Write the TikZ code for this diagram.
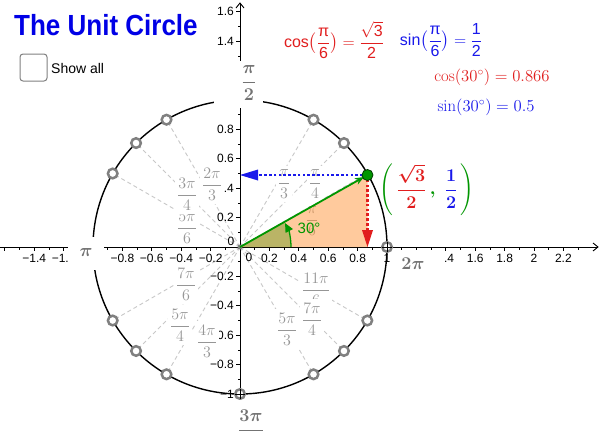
\RequirePackage{fix-cm}
\documentclass[tikz,border=0pt]{standalone}
\usepackage{amsmath}
\usepackage{fontspec}
\newfontfamily\gsans{Liberation Sans}
\usetikzlibrary{arrows.meta}
\definecolor{ggred}{RGB}{225,30,30}
\definecolor{ggblue}{RGB}{25,25,235}
\definecolor{titleblue}{RGB}{0,0,230}
\definecolor{gggreen}{RGB}{0,150,0}
\definecolor{lblgray}{RGB}{150,150,150}
\definecolor{cardgray}{RGB}{115,115,115}
\definecolor{raygray}{RGB}{200,200,200}
\definecolor{ringgray}{RGB}{128,128,128}
\definecolor{triorange}{RGB}{255,150,60}
\definecolor{sectgreen}{RGB}{60,140,0}
\newcommand{\gs}[1]{\text{\gsans #1}}
\begin{document}
\begin{tikzpicture}[x=1pt,y=-1pt,
  ray/.style={draw=raygray, line width=0.9pt, dash pattern=on 4pt off 3pt},
  ring/.style={draw=ringgray, fill=white, line width=2.5pt},
  ticklbl/.style={font=\gsans\fontsize{12}{14}\selectfont, inner sep=0pt, text=black},
  anglbl/.style={text=lblgray, fill=white, inner xsep=2.5pt, inner ysep=3.5pt, font=\fontsize{16}{19}\selectfont},
  cardlbl/.style={text=cardgray, inner sep=0pt, font=\fontsize{18}{21}\selectfont\boldmath},
  dotline/.style={line width=2.6pt, dash pattern=on 2.6pt off 2.2pt},
  axisline/.style={line width=0.9pt, draw=black},
  tickline/.style={line width=0.8pt, draw=black}
]
\useasboundingbox (0,0) rectangle (599,432);
\fill[white] (0,0) rectangle (599,432);
\coordinate (O) at (240,247);
\coordinate (P) at (367.5,175);
\coordinate (F) at (367.5,247);
\coordinate (Fb) at (367.5,231);
\coordinate (Yf) at (240,175);
\coordinate (Yb) at (257,175);
\coordinate (A0) at (291,247);
% rays
\foreach \a in {30,45,60,120,135,150,210,225,240,300,315,330}
  \draw[ray] (O) -- ({240+147*cos(\a)},{247-147*sin(\a)});
% unit circle
\draw[line width=1.4pt] (O) circle[radius=147pt];
% axes
\draw[axisline] (0,247) -- (598,247);
\draw[axisline] (593,243) -- (598,247) -- (593,251);
\draw[axisline] (240,400) -- (240,3);
\draw[axisline] (236,8) -- (240,3) -- (244,8);
\foreach \i in {-16,...,23}{
  \pgfmathsetmacro\xx{240+14.7*\i}
  \pgfmathsetmacro\tl{mod(\i+40,2)==0 ? 4 : 2.5}
  \draw[tickline] (\xx,247) -- (\xx,{247+\tl});
}
\foreach \i in {-10,...,16}{
  \pgfmathsetmacro\yy{247-14.7*\i}
  \pgfmathsetmacro\tl{mod(\i+40,2)==0 ? 4 : 2.5}
  \draw[tickline] (240,\yy) -- ({240-\tl},\yy);
}
\foreach \v/\t [count=\k] in {-1.4/−1.4,-1.2/−1.2,-1/−1,-0.8/−0.8,-0.6/−0.6,-0.4/−0.4,-0.2/−0.2,0.2/0.2,0.4/0.4,0.6/0.6,0.8/0.8,1/1,1.2/1.2,1.4/1.4,1.6/1.6,1.8/1.8,2/2,2.2/2.2}
  \node[ticklbl] (xl\k) at ({240+147*\v},258.5) {\t};
\node[ticklbl] (xlzero) at (249,257.5) {0};
\foreach \v/\t [count=\k] in {1.6/1.6,1.4/1.4,1.2/1.2,1/1,0.8/0.8,0.6/0.6,0.4/0.4,0.2/0.2,-0.2/−0.2,-0.4/−0.4,-0.6/−0.6,-0.8/−0.8,-1/−1}
  \node[ticklbl, anchor=east] (yl\k) at (234,{247-147*\v}) {\t};
\node[ticklbl] (ylzero) at (231,241) {0};
% rings on the circle
\foreach \a in {0,45,60,120,135,150,210,225,240,270,300,315,330}
  \draw[ring] ({240+147*cos(\a)},{247-147*sin(\a)}) circle[radius=4.8pt];
\draw[tickline] (382,247) -- (392,247) (387,242) -- (387,252);
\draw[tickline] (235,394) -- (245,394) (240,389) -- (240,399);
\fill[ringgray] (O) circle[radius=2.5pt];
% angle labels
\foreach \n/\x/\y/\nm/\dn in {fivesix/187/228/5\pi/6, threefour/187/195/3\pi/4, twothree/212/185/2\pi/3, sevensix/186/285/7\pi/6, fivefour/180/326/5\pi/4, fourthree/207/342/4\pi/3, pithree/284/185/\pi/3, pifour/315/185/\pi/4, pisix/312/222/\pi/6, elevensix/316/290/11\pi/6, sevenfour/312/320/7\pi/4, fivethree/287/330/5\pi/3}
  \node[anglbl] (l\n) at (\x,{\y-1}) {$\dfrac{\nm}{\dn}$};
% cardinal labels
\fill[white] (214,61) rectangle (263,108);
\node[cardlbl] (lhalfpi) at (249,83) {$\dfrac{\pi}{2}$};
\fill[white] (68,237) rectangle (104,270);
\node[cardlbl] (lpi) at (86,252) {$\pi$};
\fill[white] (393,250) rectangle (444,282);
\node[cardlbl] (ltwopi) at (413,264) {$2\pi$};
\fill[white] (226,400) rectangle (276,432);
\node[cardlbl] (lthreehalf) at (251,429) {$\dfrac{3\pi}{2}$};
% triangle and sector
\fill[fill=triorange, fill opacity=0.5] (O) -- (P) -- (F) -- cycle;
\fill[fill=sectgreen, fill opacity=0.35] (O) -- (A0) arc[start angle=0, end angle=30, radius=51pt] -- cycle;
\draw[gggreen, line width=1.8pt, -{Stealth[length=9pt, width=7pt]}, shorten >=4pt] (O) -- (P);
\draw[gggreen, line width=1.3pt, -{Triangle[length=9pt, width=8pt]}] (A0) arc[start angle=0, end angle=28, radius=51pt];
\node[text=gggreen, inner sep=0pt, font=\gsans\fontsize{15}{18}\selectfont] (deg) at (309,228) {30°};
% projections
\draw[ggblue, dotline] (P) -- (Yb);
\fill[ggblue] (Yf) -- (258,169.5) -- (258,180.5) -- cycle;
\draw[ggred, dotline] (P) -- (Fb);
\fill[ggred] (F) -- (362,230) -- (373,230) -- cycle;
\filldraw[fill=gggreen, draw=black!60!gggreen, line width=0.8pt] (P) circle[radius=5.5pt];
% point label
\node[text=gggreen, inner sep=0pt, font=\fontsize{18}{21}\selectfont\boldmath] (coord) at (427,190) {$\Biggl(\,{\color{ggred}\dfrac{\sqrt{3}}{2}}\,,\;{\color{ggblue}\dfrac{1}{2}}\,\Biggr)$};
% header
\node[anchor=base west, inner sep=0pt, text=titleblue] (title) at (14,35) {\scalebox{1}[1.12]{\gsans\bfseries\fontsize{26}{30}\selectfont The Unit Circle}};
\draw[draw=ringgray, line width=1pt, rounded corners=3pt] (20,54) rectangle (47,81);
\node[anchor=base west, inner sep=0pt] (showall) at (51,73) {\gsans\fontsize{14}{16}\selectfont Show all};
\node[text=ggred, inner sep=0pt, font=\fontsize{16}{19}\selectfont] (cosf) at (334,40) {$\gs{cos}\bigl(\dfrac{\gs{π}}{\gs{6}}\bigr) = \dfrac{\sqrt{\gs{3}}}{\gs{2}}$};
\node[text=ggblue, inner sep=0pt, font=\fontsize{16}{19}\selectfont] (sinf) at (441,40) {$\gs{sin}\bigl(\dfrac{\gs{π}}{\gs{6}}\bigr) = \dfrac{\gs{1}}{\gs{2}}$};
\node[text=ggred, inner sep=0pt, font=\fontsize{16.7}{20}\selectfont] (cosd) at (492,77) {$\cos(30^\circ) = 0.866$};
\node[text=ggblue, inner sep=0pt, font=\fontsize{16.7}{20}\selectfont] (sind) at (486,107) {$\sin(30^\circ) = 0.5$};
\end{tikzpicture}
\end{document}
